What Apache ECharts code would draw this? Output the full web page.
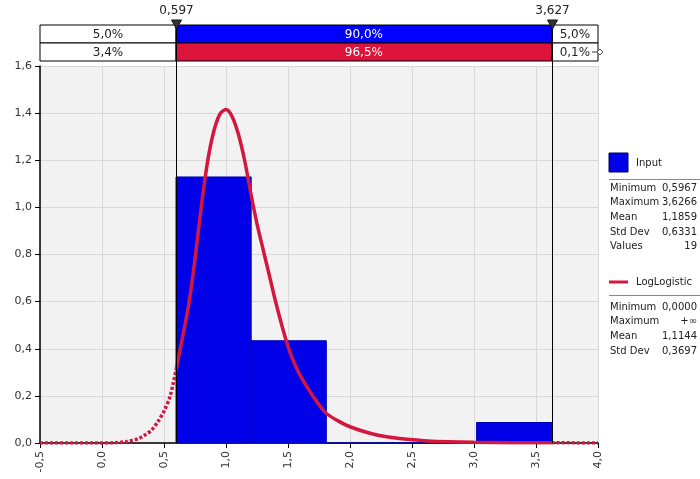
<!DOCTYPE html>
<html>
<head>
<meta charset="utf-8">
<script src="https://cdn.jsdelivr.net/npm/echarts@6/dist/echarts.min.js"></script>
<style>
  html, body { margin: 0; padding: 0; background: #fff; }
  #chart { width: 700px; height: 479px; }
</style>
</head>
<body>
<div id="chart"></div>
<script>
// histogram of the input (density per bin)
const binEdges = [0.597, 1.203, 1.809, 2.415, 3.021, 3.627];
const binDensity = [1.129, 0.434, 0, 0, 0.087];

// fitted LogLogistic density
const fitX = [-0.5, -0.25, 0, 0.1, 0.2, 0.3, 0.35, 0.4, 0.45, 0.5, 0.55, 0.597, 0.65, 0.7, 0.75, 0.8, 0.85, 0.9, 0.95,
  1.0, 1.05, 1.1, 1.15, 1.2, 1.25, 1.3, 1.35, 1.4, 1.45, 1.5, 1.55, 1.6, 1.7, 1.8, 1.9, 2.0, 2.2, 2.4, 2.6, 2.8,
  3.0, 3.3, 3.627, 4.0];
const fitY = [0, 0, 0, 0.001, 0.006, 0.02, 0.035, 0.055, 0.09, 0.135, 0.2, 0.31, 0.45, 0.59, 0.78, 1.0, 1.19, 1.32, 1.395,
  1.415, 1.385, 1.31, 1.2, 1.06, 0.93, 0.82, 0.71, 0.6, 0.5, 0.41, 0.34, 0.285, 0.2, 0.13, 0.095, 0.069, 0.036, 0.019, 0.01, 0.005,
  0.003, 0.0015, 0.001, 0];

const cutoffs = [0.597, 3.627];
const cutoffLabels = ['0,597', '3,627'];
const inputPct = ['5,0%', '90,0%', '5,0%'];
const fitPct = ['3,4%', '96,5%', '0,1%'];

const inputStats = [['Minimum', '0,5967'], ['Maximum', '3,6266'], ['Mean', '1,1859'], ['Std Dev', '0,6331'], ['Values', '19']];
const fitStats = [['Minimum', '0,0000'], ['Maximum', '+\u221e'], ['Mean', '1,1144'], ['Std Dev', '0,3697']];

const BLUE = '#0000e8';
const RED = '#d4173f';
const FONT = 'DejaVu Sans';

const comma = v => v.toFixed(1).replace('.', ',');

const bins = binDensity.map((h, i) => [binEdges[i], binEdges[i + 1], h]);
const fitPts = fitX.map((x, i) => [x, fitY[i]]);
const fitIn = fitPts.filter(p => p[0] >= cutoffs[0] && p[0] <= cutoffs[1]);
const fitLeft = fitPts.filter(p => p[0] <= cutoffs[0]);
const fitRight = fitPts.filter(p => p[0] >= cutoffs[1]);

const chart = echarts.init(document.getElementById('chart'));

chart.setOption({
    animation: false,
    textStyle: { fontFamily: FONT },
    grid: { left: 40, right: 102, top: 66, bottom: 36, show: true, backgroundColor: '#f2f2f2', borderWidth: 0 },
    xAxis: {
        type: 'value', min: -0.5, max: 4.0, interval: 0.5,
        axisLine: { onZero: false, lineStyle: { color: '#000', width: 1.5 } },
        axisTick: { show: true, length: 5, lineStyle: { color: '#000' } },
        axisLabel: { rotate: 90, formatter: comma, color: '#333', fontSize: 11, margin: 8 },
        splitLine: { show: true, lineStyle: { color: '#d8d8d8' } }
    },
    yAxis: {
        type: 'value', min: 0, max: 1.6, interval: 0.2,
        axisLine: { show: true, onZero: false, lineStyle: { color: '#000', width: 1.5 } },
        axisTick: { show: true, length: 5, lineStyle: { color: '#000' } },
        axisLabel: { formatter: comma, color: '#333', fontSize: 11, margin: 8 },
        splitLine: { show: true, lineStyle: { color: '#d8d8d8' } }
    },
    series: [
        {
            type: 'custom',
            data: bins,
            encode: { x: [0, 1], y: 2 },
            z: 2,
            renderItem: (params, api) => {
                const p0 = api.coord([api.value(0), api.value(2)]);
                const p1 = api.coord([api.value(1), 0]);
                return {
                    type: 'rect',
                    shape: { x: p0[0], y: p0[1], width: p1[0] - p0[0], height: p1[1] - p0[1] },
                    style: { fill: BLUE, stroke: '#0000b0', lineWidth: 1 }
                };
            }
        },
        {
            type: 'line', data: fitIn, smooth: 0.3, symbol: 'none', z: 4,
            lineStyle: { color: RED, width: 3.5 }
        },
        {
            type: 'line', data: fitLeft, smooth: 0.3, symbol: 'none', z: 4,
            lineStyle: { color: RED, width: 3.5, type: [3, 2] }
        },
        {
            type: 'line', data: fitRight, smooth: 0.3, symbol: 'none', z: 4,
            lineStyle: { color: RED, width: 3.5, type: [3, 2] }
        }
    ]
});

// band of percentages, cut-off markers and the side legend
const px = v => chart.convertToPixel({ xAxisIndex: 0 }, v);
const py = v => chart.convertToPixel({ yAxisIndex: 0 }, v);
const x0 = px(-0.5), x1 = px(cutoffs[0]), x2 = px(cutoffs[1]), x3 = px(4.0);
const yBase = py(0);
const rowTop = [25, 43];
const rowH = 18;

const g = [];
function cell(xa, xb, y, txt, fill, color) {
    g.push({ type: 'rect', shape: { x: xa, y: y, width: xb - xa, height: rowH },
        style: { fill: fill, stroke: '#000', lineWidth: 1 }, z: 10 });
    g.push({ type: 'text', x: (xa + xb) / 2, y: y + rowH / 2 + 1, z: 11,
        style: { text: txt, fill: color, font: '12px ' + FONT, textAlign: 'center', textVerticalAlign: 'middle' } });
}
cell(x0, x1, rowTop[0], inputPct[0], '#fff', '#222');
cell(x1, x2, rowTop[0], inputPct[1], '#0000ff', '#fff');
cell(x2, x3, rowTop[0], inputPct[2], '#fff', '#222');
cell(x0, x1, rowTop[1], fitPct[0], '#fff', '#222');
cell(x1, x2, rowTop[1], fitPct[1], '#dc143c', '#fff');
cell(x2, x3, rowTop[1], fitPct[2], '#fff', '#222');

// little arrow at the right end of the fit row
g.push({ type: 'line', shape: { x1: x3 - 6, y1: 52, x2: x3 + 2, y2: 52 }, style: { stroke: '#333', lineWidth: 1 }, z: 12 });
g.push({ type: 'polygon', shape: { points: [[x3 + 2, 49], [x3 + 5, 52], [x3 + 2, 55], [x3 - 1, 52]] },
    style: { fill: '#fff', stroke: '#555', lineWidth: 1 }, z: 12 });

cutoffs.forEach((c, i) => {
    const x = Math.round(px(c)) + 0.5;
    g.push({ type: 'line', shape: { x1: x, y1: 25, x2: x, y2: yBase }, style: { stroke: '#000', lineWidth: 1 }, z: 12 });
    g.push({ type: 'polygon', shape: { points: [[x - 5, 20], [x + 5, 20], [x, 29]] },
        style: { fill: '#333', stroke: '#111', lineWidth: 1 }, z: 13 });
    g.push({ type: 'text', x: x, y: 11, z: 13,
        style: { text: cutoffLabels[i], fill: '#222', font: '12px ' + FONT, textAlign: 'center', textVerticalAlign: 'middle' } });
});

// legend panel
const lx = 609, rx = 697;
function stats(rows, yStart) {
    rows.forEach((r, i) => {
        const y = yStart + i * 14.7;
        g.push({ type: 'text', x: lx + 1, y: y, style: { text: r[0], fill: '#222', font: '10px ' + FONT, textVerticalAlign: 'middle' } });
        g.push({ type: 'text', x: rx, y: y, style: { text: r[1], fill: '#222', font: '10px ' + FONT, textAlign: 'right', textVerticalAlign: 'middle' } });
    });
}
g.push({ type: 'rect', shape: { x: lx, y: 153, width: 19, height: 19 }, style: { fill: BLUE, stroke: '#000050', lineWidth: 1 } });
g.push({ type: 'text', x: 636, y: 163, style: { text: 'Input', fill: '#222', font: '10px ' + FONT, textVerticalAlign: 'middle' } });
g.push({ type: 'line', shape: { x1: lx, y1: 179.5, x2: 700, y2: 179.5 }, style: { stroke: '#888', lineWidth: 1 } });
stats(inputStats, 188);

g.push({ type: 'line', shape: { x1: lx, y1: 282, x2: 628, y2: 282 }, style: { stroke: RED, lineWidth: 3 } });
g.push({ type: 'text', x: 636, y: 282, style: { text: 'LogLogistic', fill: '#222', font: '10px ' + FONT, textVerticalAlign: 'middle' } });
g.push({ type: 'line', shape: { x1: lx, y1: 295.5, x2: 700, y2: 295.5 }, style: { stroke: '#888', lineWidth: 1 } });
stats(fitStats, 307);

chart.setOption({ graphic: g });
</script>
</body>
</html>
